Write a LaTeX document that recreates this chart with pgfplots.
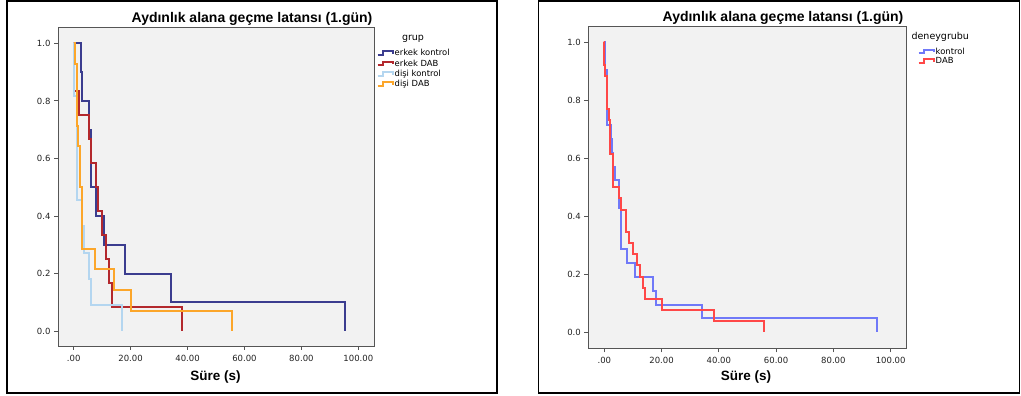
\documentclass[border=0pt]{standalone}
\usepackage{fontspec}
\setmainfont{DejaVu Sans}
\newfontfamily\headfont{Liberation Sans}
\usepackage{pgfplots}
\pgfplotsset{compat=1.18}

\definecolor{ekcol}{HTML}{3B3D8F}
\definecolor{edcol}{HTML}{B3282D}
\definecolor{dkcol}{HTML}{B4D6F0}
\definecolor{ddcol}{HTML}{FCA62A}
\definecolor{kcol}{HTML}{7079F8}
\definecolor{dcol}{HTML}{FF4848}
\definecolor{plotbg}{HTML}{F2F2F2}
\definecolor{axisgray}{HTML}{555555}
\definecolor{tickcol}{HTML}{222222}

\pgfplotsset{
  km/.style={
    scale only axis,
    axis background/.style={fill=plotbg},
    axis line style={axisgray, line width=0.9pt},
    tick style={axisgray, line width=0.9pt},
    tick align=outside,
    tick pos=left,
    major tick length=4pt,
    xtick={0,20,40,60,80,100},
    xticklabels={.00,20.00,40.00,60.00,80.00,100.00},
    ytick={0,0.2,0.4,0.6,0.8,1},
    yticklabels={0.0,0.2,0.4,0.6,0.8,1.0},
    tick label style={font=\fontsize{8.5}{10}\selectfont, text=tickcol},
    xticklabel style={yshift=-1.5pt},
    legend cell align=left,
    legend image code/.code={\draw[#1, line width=2pt] (0pt,-1.6pt) -- (5pt,-1.6pt) -- (5pt,2pt) -- (15pt,2pt) -- (15pt,-0.5pt);},
    legend style={draw=none, fill=none, inner sep=0pt, outer sep=0pt, anchor=north west,
      font=\fontsize{8.4}{10}\selectfont,
      nodes={inner sep=0pt, text height=6.5pt, text depth=1.8pt},
      /tikz/every odd column/.style={column sep=1pt}},
  },
  kmline/.style={const plot, line width=2pt, line join=miter, line cap=butt, #1},
}

\begin{document}
\begin{tikzpicture}
\useasboundingbox (0pt,0pt) rectangle (1021pt,396pt);
\draw[line width=1.4pt] (7pt,3pt) rectangle (497pt,395pt);
\draw[line width=1.4pt] (538.3pt,3pt) rectangle (1019.5pt,395pt);

% survival by sex and treatment
\begin{axis}[km, at={(58pt,50pt)}, anchor=south west, width=316pt, height=319pt,
  xmin=-5.5, xmax=105.5, ymin=-0.052, ymax=1.057,
  legend style={at={(1.0085,0.930)}, row sep=2pt}]
\addplot[kmline=ekcol] coordinates {(0,1) (2.45,0.9) (2.9,0.8) (5.25,0.7) (6.0,0.5) (8.0,0.4) (10.8,0.3) (18.0,0.2) (34.2,0.1) (95.3,0)};
\addplot[kmline=edcol] coordinates {(0,1) (0.05,0.833) (1.9,0.75) (5.25,0.667) (6.0,0.583) (7.7,0.5) (8.5,0.417) (10.0,0.333) (11.5,0.25) (12.3,0.167) (13.4,0.083) (38.2,0)};
\addplot[kmline=dkcol] coordinates {(0,1) (0.15,0.818) (1.0,0.455) (2.8,0.364) (3.6,0.273) (5.3,0.182) (6.0,0.091) (17.0,0)};
\addplot[kmline=ddcol] coordinates {(0,1) (0.4,0.929) (1.0,0.714) (1.5,0.643) (2.1,0.5) (2.9,0.286) (7.6,0.214) (14.1,0.143) (20.0,0.071) (55.7,0)};
\legend{erkek kontrol, erkek DAB, dişi kontrol, dişi DAB}
\end{axis}

% survival by treatment group
\begin{axis}[km, at={(588.3pt,47.7pt)}, anchor=south west, width=318.4pt, height=322.3pt,
  xmin=-5.59, xmax=105.6, ymin=-0.055, ymax=1.056,
  legend style={at={(1.0346,0.933)}, row sep=1pt}]
\addplot[kmline=kcol] coordinates {(0,1) (0.15,0.905) (1.0,0.714) (2.45,0.667) (2.8,0.619) (2.9,0.571) (3.6,0.524) (5.25,0.476) (5.3,0.429) (6.0,0.286) (8.0,0.238) (10.8,0.190) (17.0,0.143) (18.0,0.095) (34.2,0.048) (95.3,0)};
\addplot[kmline=dcol] coordinates {(0,1) (0.05,0.923) (0.4,0.885) (1.0,0.769) (1.5,0.731) (1.9,0.692) (2.1,0.615) (2.9,0.5) (5.25,0.462) (6.0,0.423) (7.6,0.385) (7.7,0.346) (8.5,0.308) (10.0,0.269) (11.5,0.231) (12.3,0.192) (13.4,0.154) (14.1,0.115) (20.0,0.077) (38.2,0.038) (55.7,0)};
\legend{kontrol, DAB}
\end{axis}

\node[font=\headfont\bfseries\fontsize{14}{16}\selectfont, anchor=base] at (252pt,373.3pt) {Aydınlık alana geçme latansı (1.gün)};
\node[font=\headfont\bfseries\fontsize{14}{16}\selectfont, anchor=base] at (783pt,374pt) {Aydınlık alana geçme latansı (1.gün)};
\node[font=\headfont\bfseries\fontsize{13.5}{16}\selectfont, anchor=base] at (215.5pt,15.3pt) {Süre (s)};
\node[font=\headfont\bfseries\fontsize{13.5}{16}\selectfont, anchor=base] at (746pt,15pt) {Süre (s)};
\node[font=\fontsize{9.5}{11}\selectfont, anchor=base] at (413pt,355pt) {grup};
\node[font=\fontsize{9.5}{11}\selectfont, anchor=base] at (940.3pt,356.7pt) {deneygrubu};
\end{tikzpicture}
\end{document}
